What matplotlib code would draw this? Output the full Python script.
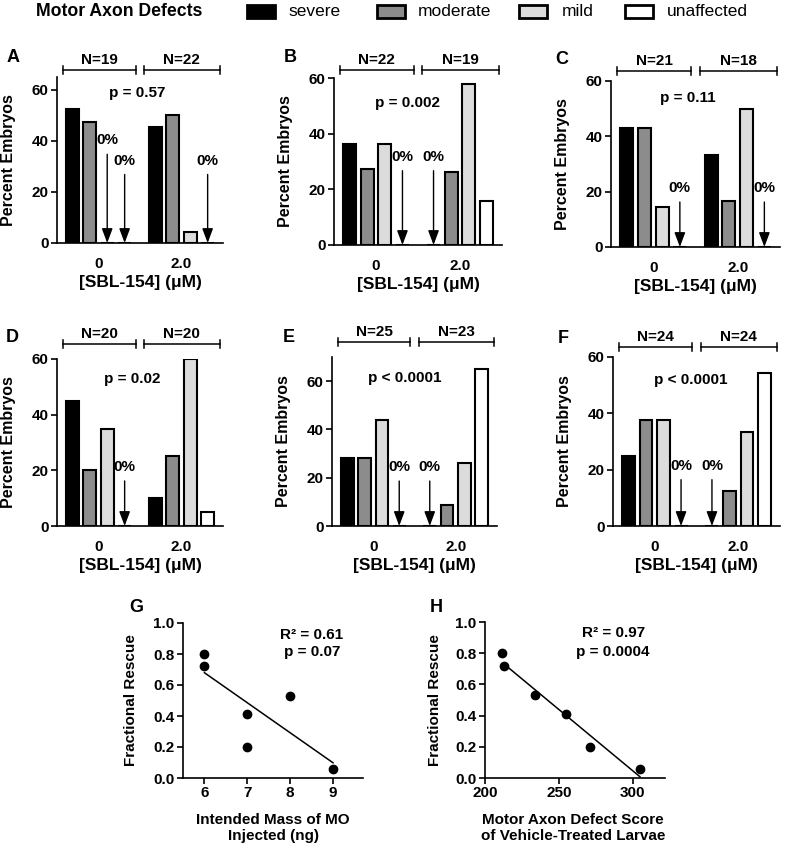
import numpy as np
import matplotlib
matplotlib.use("Agg")
import matplotlib.pyplot as plt
from matplotlib.patches import Rectangle
from matplotlib.transforms import blended_transform_factory

plt.rcParams['font.family'] = ['Liberation Sans', 'DejaVu Sans']
plt.rcParams['font.weight'] = 'bold'

# ---------------- data ----------------
categories = ['severe', 'moderate', 'mild', 'unaffected']
cat_colors = ['#000000', '#8c8c8c', '#dcdcdc', '#ffffff']
dose_labels = ['0', '2.0']

panel_names = ['A', 'B', 'C', 'D', 'E', 'F']
n_vehicle = [19, 22, 21, 20, 25, 24]
n_drug = [22, 19, 18, 20, 23, 24]
p_values = ['p = 0.57', 'p = 0.002', 'p = 0.11', 'p = 0.02', 'p < 0.0001', 'p < 0.0001']

A_vehicle = [52.6, 47.4, 0, 0]
A_drug = [45.5, 50.0, 4.5, 0]
B_vehicle = [36.4, 27.3, 36.4, 0]
B_drug = [0, 26.3, 57.9, 15.8]
C_vehicle = [42.9, 42.9, 14.3, 0]
C_drug = [33.3, 16.7, 50.0, 0]
D_vehicle = [45.0, 20.0, 35.0, 0]
D_drug = [10.0, 25.0, 60.0, 5.0]
E_vehicle = [28.0, 28.0, 44.0, 0]
E_drug = [0, 8.7, 26.1, 65.2]
F_vehicle = [25.0, 37.5, 37.5, 0]
F_drug = [0, 12.5, 33.3, 54.2]

vehicle_sets = [A_vehicle, B_vehicle, C_vehicle, D_vehicle, E_vehicle, F_vehicle]
drug_sets = [A_drug, B_drug, C_drug, D_drug, E_drug, F_drug]

# G & H
mo_mass = [6, 6, 7, 7, 8, 9]
defect_score = [211.5, 213, 234, 255, 271, 305]
frac_rescue = [0.80, 0.72, 0.41, 0.20, 0.53, 0.06]
frac_rescue_H = [0.80, 0.72, 0.53, 0.41, 0.20, 0.06]
G_stats = ['R\u00b2 = 0.61', 'p = 0.07']
H_stats = ['R\u00b2 = 0.97', 'p = 0.0004']

# ---------------- layout ----------------
W, H = 785, 850
fig = plt.figure(figsize=(W / 100, H / 100), dpi=100)


def px_axes(l, r, t, b):
    return fig.add_axes([l / W, 1 - b / H, (r - l) / W, (b - t) / H])


def fig_xy(x, y):
    return x / W, 1 - y / H


bar_boxes = [(57, 223, 77, 243), (334, 502, 78, 245), (611, 780, 81, 247),
             (57, 223, 359, 526), (332, 497, 357, 526), (613, 780, 357, 526)]
bar_ylims = [65, 60, 60, 60, 70, 60]
bracket_y = [70, 70, 71, 344, 342, 347]
letter_pos = [(13, 57), (290, 57), (562, 59), (12, 337), (289, 337), (563, 338)]
p_pos = [(0.47, 58.7), (0.37, 51.0), (0.41, 53.9), (0.41, 52.8), (0.38, 61.2), (0.43, 51.8)]
zero_text_y = [[40.2, 32.3, 32.3], [31.7, 31.7], [21.3, 21.3], [21.2], [24.4, 24.4], [21.4, 21.4]]

spacing = 0.21
offsets = (np.arange(4) - 1.5) * spacing
bar_w = 0.155
bracket_spans = [(-0.43, 0.45), (0.55, 1.46)]


def style_axes(ax):
    for s in ['top', 'right']:
        ax.spines[s].set_visible(False)
    for s in ['left', 'bottom']:
        ax.spines[s].set_linewidth(1.2)
    ax.tick_params(axis='both', labelsize=11, width=1.2, length=4, pad=2)
    for lab in ax.get_xticklabels() + ax.get_yticklabels():
        lab.set_fontweight('bold')


for i, name in enumerate(panel_names):
    l, r, t, b = bar_boxes[i]
    ax = px_axes(l, r, t, b)
    groups = [vehicle_sets[i], drug_sets[i]]
    for g, vals in enumerate(groups):
        ax.bar(g + offsets, vals, width=bar_w, color=cat_colors,
               edgecolor='black', linewidth=1.5, zorder=2)
    ax.set_xlim(-0.5, 1.5)
    ax.set_ylim(0, bar_ylims[i])
    ax.set_yticks([0, 20, 40, 60])
    ax.set_xticks([0, 1])
    ax.set_xticklabels(dose_labels)
    style_axes(ax)
    ax.tick_params(axis='x', length=0, pad=10)
    ax.set_ylabel('Percent Embryos', fontsize=11.5, fontweight='bold')
    ax.yaxis.set_label_coords(-41 / (r - l), 0.5)
    ax.set_xlabel('[SBL-154] (\u03bcM)', fontsize=12.5, fontweight='bold')
    ax.xaxis.set_label_coords(0.5, -32 / (b - t))

    # zero arrows
    k = 0
    for g, vals in enumerate(groups):
        for j, v in enumerate(vals):
            if v == 0:
                xpos = g + offsets[j]
                ax.annotate('0%', xy=(xpos, 0), xytext=(xpos, zero_text_y[i][k]),
                            ha='center', va='center', fontsize=11, fontweight='bold',
                            arrowprops=dict(arrowstyle='-|>,head_length=0.8,head_width=0.3',
                                            color='black', lw=1.0, shrinkA=3, shrinkB=0),
                            zorder=3)
                k += 1

    # p value
    ax.text(p_pos[i][0], p_pos[i][1], p_values[i], ha='center', va='center',
            fontsize=11, fontweight='bold')

    # N brackets
    tr = blended_transform_factory(ax.transData, fig.transFigure)
    yb = 1 - bracket_y[i] / H
    cap = 4 / H
    for (x0, x1), n in zip(bracket_spans, [n_vehicle[i], n_drug[i]]):
        ax.plot([x0, x1], [yb, yb], color='black', lw=1.1, transform=tr, clip_on=False)
        for xx in (x0, x1):
            ax.plot([xx, xx], [yb - cap, yb + cap], color='black', lw=1.1,
                    transform=tr, clip_on=False)
        ax.text((x0 + x1) / 2, yb + 10 / H, 'N=%d' % n, transform=tr, ha='center',
                va='center', fontsize=11, fontweight='bold')

    fx, fy = fig_xy(*letter_pos[i])
    fig.text(fx, fy, name, ha='center', va='center', fontsize=13, fontweight='bold')

# ---------------- G ----------------
axG = px_axes(183, 363, 623, 778)
axG.scatter(mo_mass, frac_rescue, s=36, color='black', zorder=3, clip_on=False)
cg = np.polyfit(mo_mass, frac_rescue, 1)
xg = np.array([min(mo_mass), max(mo_mass)])
axG.plot(xg, np.polyval(cg, xg), color='black', lw=1.1)
axG.set_xlim(5.5, 9.7)
axG.set_ylim(0, 1.0)
axG.set_xticks([6, 7, 8, 9])
axG.set_yticks(np.arange(0, 1.01, 0.2))
axG.set_yticklabels(['%.1f' % v for v in np.arange(0, 1.01, 0.2)])
style_axes(axG)
axG.set_ylabel('Fractional Rescue', fontsize=11, fontweight='bold')
axG.yaxis.set_label_coords(-45 / 180, 0.5)
axG.set_xlabel('Intended Mass of MO\nInjected (ng)', fontsize=11, fontweight='bold',
               linespacing=1.2)
axG.xaxis.set_label_coords(0.5, -35 / 155)
axG.text(8.51, 0.92, G_stats[0], ha='center', va='center', fontsize=11, fontweight='bold')
axG.text(8.51, 0.81, G_stats[1], ha='center', va='center', fontsize=11, fontweight='bold')
fig.text(*fig_xy(136, 607), 'G', ha='center', va='center', fontsize=13, fontweight='bold')

# ---------------- H ----------------
axH = px_axes(485, 665, 622, 778)
axH.scatter(defect_score, frac_rescue_H, s=36, color='black', zorder=3, clip_on=False)
ch = np.polyfit(defect_score, frac_rescue_H, 1)
xh = np.array([defect_score[1], max(defect_score)])
axH.plot(xh, np.polyval(ch, xh), color='black', lw=1.1)
axH.set_xlim(200, 322)
axH.set_ylim(0, 1.0)
axH.set_xticks([200, 250, 300])
axH.set_yticks(np.arange(0, 1.01, 0.2))
axH.set_yticklabels(['%.1f' % v for v in np.arange(0, 1.01, 0.2)])
style_axes(axH)
axH.set_ylabel('Fractional Rescue', fontsize=11, fontweight='bold')
axH.yaxis.set_label_coords(-43 / 180, 0.5)
axH.set_xlabel('Motor Axon Defect Score\nof Vehicle-Treated Larvae', fontsize=11,
               fontweight='bold', linespacing=1.2)
axH.xaxis.set_label_coords(0.49, -35 / 156)
axH.text(286.8, 0.93, H_stats[0], ha='center', va='center', fontsize=11, fontweight='bold')
axH.text(286.8, 0.81, H_stats[1], ha='center', va='center', fontsize=11, fontweight='bold')
fig.text(*fig_xy(436, 607), 'H', ha='center', va='center', fontsize=13, fontweight='bold')

# ---------------- legend ----------------
fig.text(*fig_xy(36, 12), 'Motor Axon Defects', ha='left', va='center',
         fontsize=12.7, fontweight='bold')
leg_box_x = [247, 377, 519, 625]
leg_text_x = [288, 418, 562, 667]
for cat, col, bx, tx in zip(categories, cat_colors, leg_box_x, leg_text_x):
    x0, y0 = fig_xy(bx, 18)
    fig.add_artist(Rectangle((x0, y0), 28 / W, 13 / H, transform=fig.transFigure,
                             facecolor=col, edgecolor='black', linewidth=2))
    fig.text(*fig_xy(tx, 12), cat, ha='left', va='center', fontsize=12.5,
             fontweight='normal')

fig.savefig('out.png', dpi=100)
